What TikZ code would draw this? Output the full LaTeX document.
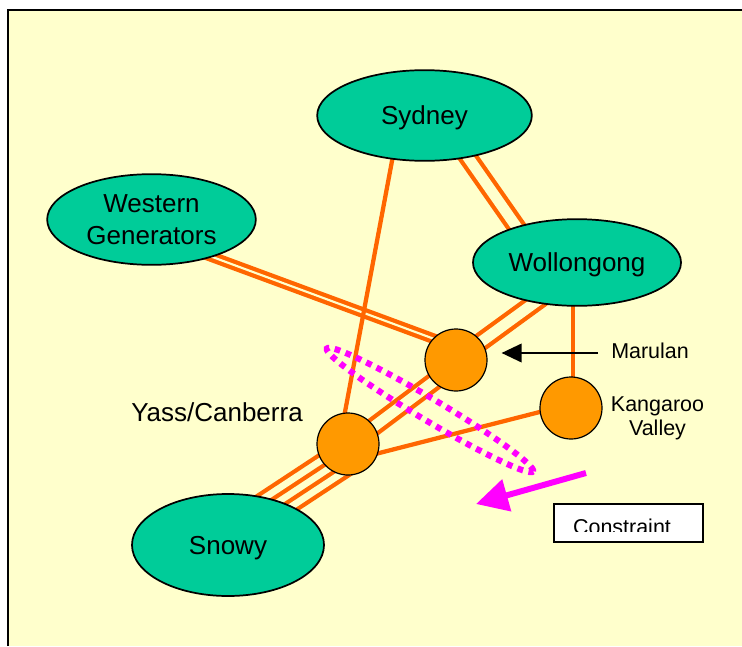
\documentclass[tikz,border=0pt]{standalone}
\usepackage{fontspec}
\setmainfont{Liberation Sans}
\usetikzlibrary{shapes.geometric,arrows.meta,calc}
\definecolor{paper}{HTML}{FFFFCC}
\definecolor{regionfill}{HTML}{00CC99}
\definecolor{hubfill}{HTML}{FF9900}
\definecolor{wirecol}{HTML}{FF6600}
\definecolor{cutcol}{HTML}{FF00FF}
\pgfdeclarelayer{paperlayer}
\pgfdeclarelayer{wirelayer}
\pgfsetlayers{paperlayer,wirelayer,main}

\begin{document}
\begin{tikzpicture}[x=0.75pt,y=-0.75pt,
  region/.style={ellipse, draw=black, line width=1.3pt, fill=regionfill, inner sep=0pt,
    font=\fontsize{19.5}{24}\selectfont, align=center},
  oneline/.style={text depth=0pt},
  hub/.style={circle, draw=black, line width=0.9pt, fill=hubfill, minimum size=46.5pt, inner sep=0pt},
  wire/.style={draw=wirecol, line width=3.2pt},
  tightpair/.style={wire, double=paper, double distance=1.6pt},
  widepair/.style={wire, double=paper, double distance=8pt},
  bundlepair/.style={wire, double=paper, double distance=5pt},
  smalllabel/.style={font=\fontsize{16.1}{18}\selectfont, inner sep=0pt},
  biglabel/.style={font=\fontsize{19.5}{24}\selectfont, inner sep=0pt},
]
\useasboundingbox (0,0) rectangle (742,646);

% sheet and its frame
\begin{pgfonlayer}{paperlayer}
  \fill[white] (0,0) rectangle (742,646);
  \fill[paper] (8.3,9.7) rectangle (742,646);
  \draw[line width=1.5pt] (8.3,646) -- (8.3,9.7) -- (742,9.7);
\end{pgfonlayer}

% regions
\node[region, oneline, minimum width=161pt, minimum height=68pt] (syd) at (424.5,115.5) {Sydney};
\node[region, minimum width=156.5pt, minimum height=68pt] (west) at (151.5,219.5) {Western\\Generators};
\node[region, oneline, minimum width=156pt, minimum height=65pt] (wol) at (577,262.5) {Wollongong};
\node[region, oneline, minimum width=144pt, minimum height=76.5pt] (snowy) at (228,545) {Snowy};

% substations
\node[hub] (mar) at (456,360) {};
\node[hub] (yass) at (348,444) {};
\node[hub] (kang) at (571,408) {};

% transmission lines, behind the nodes
\begin{pgfonlayer}{wirelayer}
  \draw[widepair] ($(syd.center)+(24,14)$) -- ($(wol.center)+(-44,-12)$);
  \draw[tightpair] ($(west.center)+(0,15)$) -- ($(mar.center)+(0,-13)$);
  \draw[widepair] (mar.center) -- ($(wol.center)+(13,0)$);
  \draw[widepair] ($(mar.center)+(0,5)$) -- ($(yass.center)+(0,2)$);
  % four circuits between Yass and Snowy
  \coordinate (yb) at ($(yass.center)+(0,12)$);
  \coordinate (sb) at ($(snowy.center)+(0,-10)$);
  \draw[bundlepair] ($(yb)!8.25pt!90:(sb)$) -- ($(sb)!8.25pt!-90:(yb)$);
  \draw[bundlepair] ($(yb)!8.25pt!-90:(sb)$) -- ($(sb)!8.25pt!90:(yb)$);
  % single circuits
  \draw[wire] ($(syd.center)+(-24,0)$) -- ($(yass.center)+(-9,0)$);
  \draw[wire] ($(wol.center)+(-4,0)$) -- ($(kang.center)+(2,0)$);
  \draw[wire] ($(kang.center)+(0,-4)$) -- ($(yass.center)+(0,17)$);
\end{pgfonlayer}

% cut set and flow direction
\node[draw=cutcol, ellipse, minimum width=180pt, minimum height=16.5pt, inner sep=0pt,
  rotate=-30.8, line width=4.6pt, dash pattern=on 4.4pt off 4.2pt] (cut) at (430,410) {};
\coordinate (pushstart) at (586,473);
\coordinate (pushend) at (476,504);
\draw[cutcol, line width=4.5pt, -{Triangle[length=24pt,width=24pt]}] (pushstart) -- (pushend);

% labels
\node[biglabel, anchor=base] (yasslbl) at (217,421.7) {Yass/Canberra};
\node[smalllabel, anchor=base west] (marlbl) at (611,358) {Marulan};
\coordinate (marptr) at ([yshift=-2pt]marlbl.west);
\draw[line width=1.1pt, -{Triangle[length=15pt,width=14pt]}, shorten <=9.75pt, shorten >=10.5pt]
  (marptr) -- (marptr -| mar.east);
\node[smalllabel, align=center, anchor=center] (kanglbl) at (657.5,418.4) {Kangaroo\\Valley};

% constraint caption box
\node[draw=black, line width=1.5pt, fill=white, minimum width=112pt, minimum height=28.5pt,
  inner sep=0pt] (cbox) at (628.5,523) {};
\begin{scope}
  \clip (cbox.north west) rectangle ($(cbox.north east)+(0,28.7)$);
  \node[smalllabel, anchor=base] (ctext) at (622,534.7) {Constraint};
\end{scope}
\end{tikzpicture}
\end{document}
